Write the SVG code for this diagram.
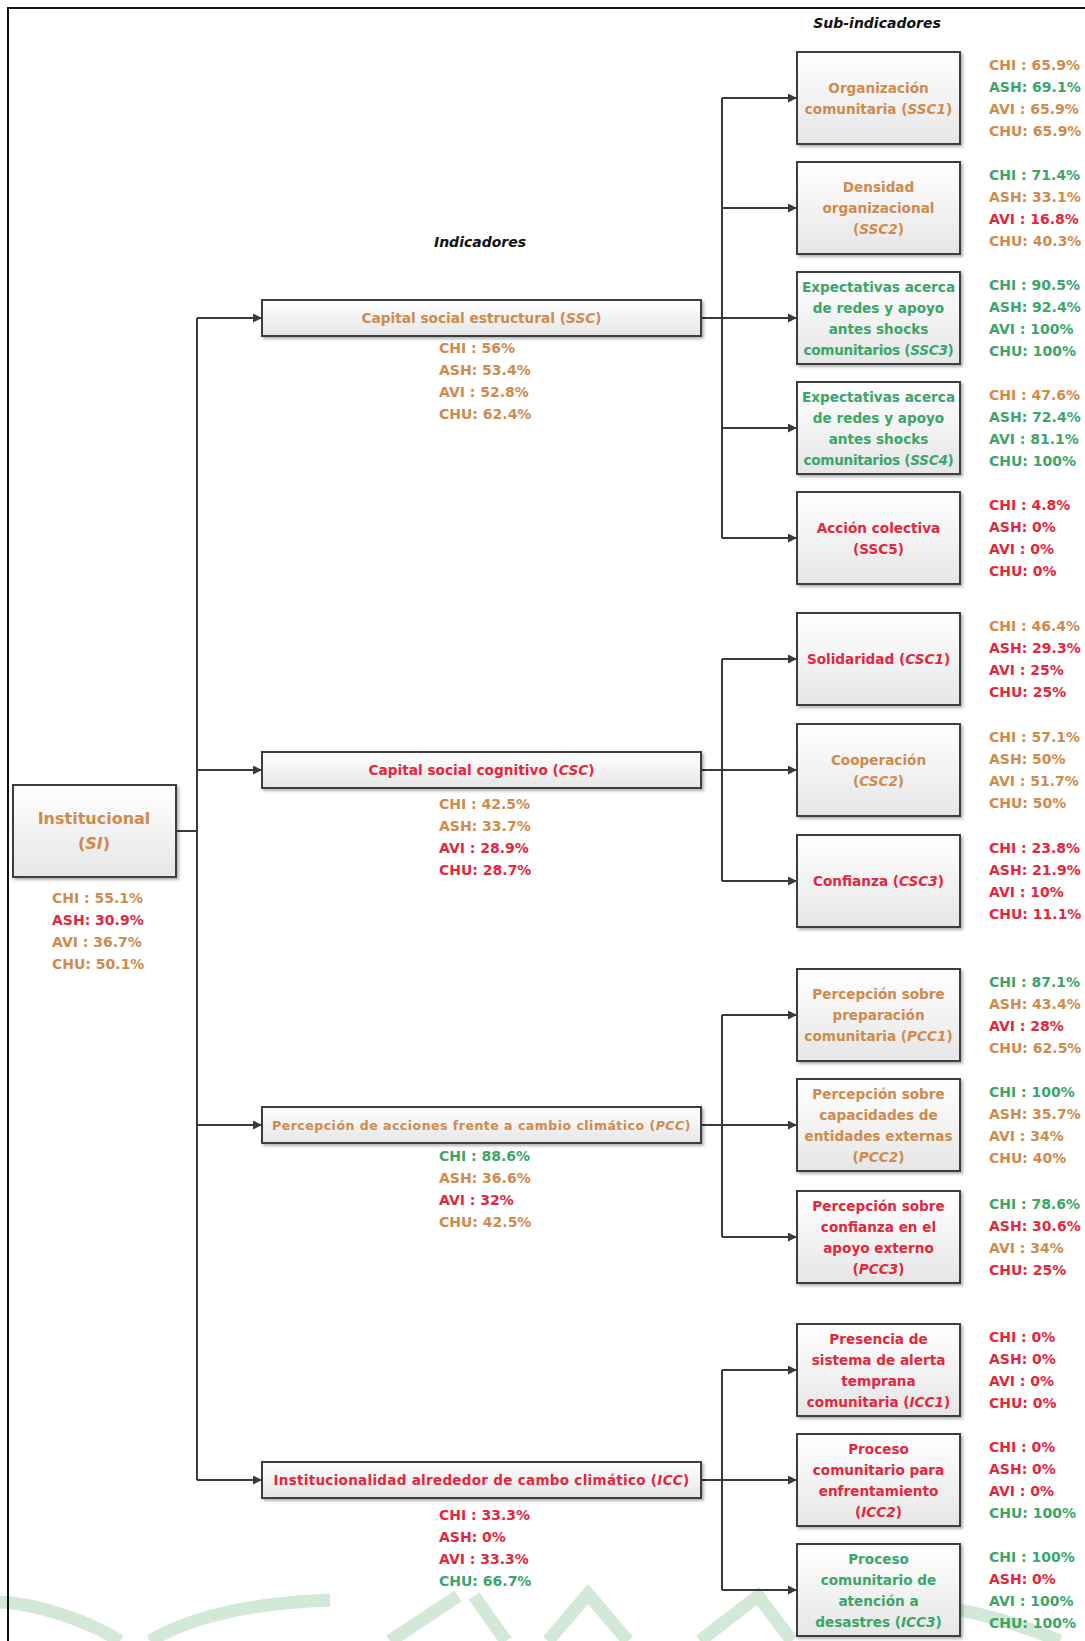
<svg xmlns="http://www.w3.org/2000/svg" width="1085" height="1641" viewBox="0 0 1085 1641">
<defs>
<linearGradient id="bg" x1="0" y1="0" x2="0" y2="1">
<stop offset="0" stop-color="#ffffff"/>
<stop offset="1" stop-color="#e6e6e6"/>
</linearGradient>
<filter id="sh" x="-10%" y="-10%" width="130%" height="130%">
<feDropShadow dx="2" dy="2" stdDeviation="1.5" flood-color="#000" flood-opacity="0.3"/>
</filter>
<marker id="ah" viewBox="0 0 10 10" refX="10" refY="5" markerWidth="10" markerHeight="9" markerUnits="userSpaceOnUse" orient="auto">
<path d="M0,0 L10,5 L0,10 z" fill="#3a3a3a"/>
</marker>
<style>
.box{fill:url(#bg);stroke:#3d3d3d;stroke-width:2;filter:url(#sh)}
.conn{stroke:#3a3a3a;stroke-width:2;fill:none}
.arr{marker-end:url(#ah)}
text{font-family:"DejaVu Sans","Liberation Sans",sans-serif;font-weight:bold;font-size:14px}
.o{fill:#D08A4C}
.g{fill:#3BA56A}
.r{fill:#E3273D}
.k{fill:#111}
.c{text-anchor:middle}
.lb{font-size:13.6px}
.i{font-style:italic}
.hd{font-style:italic;font-size:14px}
.wm{stroke:#d3e9d7;stroke-width:13;fill:none;stroke-linecap:butt}
</style>
</defs>
<rect x="0" y="0" width="1085" height="1641" fill="#ffffff"/>

<g id="watermark">
<path class="wm" d="M0,1602 C40,1604 90,1622 120,1641"/>
<path class="wm" d="M150,1641 C190,1617 250,1603 330,1600"/>
<path class="wm" d="M390,1641 L458,1596"/>
<path class="wm" d="M474,1596 L506,1641"/>
<path class="wm" d="M548,1641 L588,1594 L628,1641"/>
<path class="wm" d="M700,1641 L758,1596 L792,1641"/>
<path class="wm" d="M880,1602 C950,1602 1010,1620 1060,1641"/>
</g>

<g id="frame">
<path d="M8,1641 V8 H1085" fill="none" stroke="#111" stroke-width="2"/>
</g>

<g id="headings">
<text class="k c hd" x="877" y="28">Sub-indicadores</text>
<text class="k c hd" x="480" y="247">Indicadores</text>
</g>

<g id="connectors">
<path class="conn" d="M176,831 H197"/>
<path class="conn" d="M197,318 V1480"/>
<path class="conn arr" d="M197,318 H262"/>
<path class="conn arr" d="M197,770 H262"/>
<path class="conn arr" d="M197,1125 H262"/>
<path class="conn arr" d="M197,1480 H262"/>

<path class="conn" d="M701,318 H722"/>
<path class="conn" d="M722,98 V538"/>
<path class="conn arr" d="M722,98 H797"/>
<path class="conn arr" d="M722,208 H797"/>
<path class="conn arr" d="M722,318 H797"/>
<path class="conn arr" d="M722,428 H797"/>
<path class="conn arr" d="M722,538 H797"/>

<path class="conn" d="M701,770 H722"/>
<path class="conn" d="M722,659 V881"/>
<path class="conn arr" d="M722,659 H797"/>
<path class="conn arr" d="M722,770 H797"/>
<path class="conn arr" d="M722,881 H797"/>

<path class="conn" d="M701,1125 H722"/>
<path class="conn" d="M722,1015 V1237"/>
<path class="conn arr" d="M722,1015 H797"/>
<path class="conn arr" d="M722,1125 H797"/>
<path class="conn arr" d="M722,1237 H797"/>

<path class="conn" d="M701,1480 H722"/>
<path class="conn" d="M722,1370 V1590"/>
<path class="conn arr" d="M722,1370 H797"/>
<path class="conn arr" d="M722,1480 H797"/>
<path class="conn arr" d="M722,1590 H797"/>
</g>

<g id="SI">
<rect class="box" x="13" y="785" width="163" height="92"/>
<text class="o c" x="94" y="824" style="font-size:16px">Institucional</text>
<text class="o c" x="94" y="849" style="font-size:16px">(<tspan class="i">SI</tspan>)</text>
<text class="o" x="52" y="903">CHI : 55.1%</text>
<text class="r" x="52" y="925">ASH: 30.9%</text>
<text class="o" x="52" y="947">AVI : 36.7%</text>
<text class="o" x="52" y="969">CHU: 50.1%</text>
</g>

<g id="SSC">
<rect class="box" x="262" y="300" width="439" height="36"/>
<text class="o c" x="481.5" y="323" style="font-size:13.7px">Capital social estructural (<tspan class="i">SSC</tspan>)</text>
<text class="o" x="439" y="353">CHI : 56%</text>
<text class="o" x="439" y="375">ASH: 53.4%</text>
<text class="o" x="439" y="397">AVI : 52.8%</text>
<text class="o" x="439" y="419">CHU: 62.4%</text>
</g>

<g id="CSC">
<rect class="box" x="262" y="752" width="439" height="36"/>
<text class="r c" x="481.5" y="775" style="font-size:13.7px">Capital social cognitivo (<tspan class="i">CSC</tspan>)</text>
<text class="o" x="439" y="809">CHI : 42.5%</text>
<text class="o" x="439" y="831">ASH: 33.7%</text>
<text class="r" x="439" y="853">AVI : 28.9%</text>
<text class="r" x="439" y="875">CHU: 28.7%</text>
</g>

<g id="PCC">
<rect class="box" x="262" y="1107" width="439" height="36"/>
<text class="o c" x="481.5" y="1130" style="font-size:12.5px;letter-spacing:0.5px">Percepción de acciones frente a cambio climático (<tspan class="i">PCC</tspan>)</text>
<text class="g" x="439" y="1161">CHI : 88.6%</text>
<text class="o" x="439" y="1183">ASH: 36.6%</text>
<text class="r" x="439" y="1205">AVI : 32%</text>
<text class="o" x="439" y="1227">CHU: 42.5%</text>
</g>

<g id="ICC">
<rect class="box" x="262" y="1462" width="439" height="36"/>
<text class="r c" x="481.5" y="1485" style="font-size:13.5px;letter-spacing:0.3px">Institucionalidad alrededor de cambo climático (<tspan class="i">ICC</tspan>)</text>
<text class="r" x="439" y="1520">CHI : 33.3%</text>
<text class="r" x="439" y="1542">ASH: 0%</text>
<text class="r" x="439" y="1564">AVI : 33.3%</text>
<text class="g" x="439" y="1586">CHU: 66.7%</text>
</g>

<g id="SSC1">
<rect class="box" x="797" y="52" width="163" height="92"/>
<text class="o c lb" x="878.5" y="92.5">Organización</text>
<text class="o c lb" x="878.5" y="113.5">comunitaria (<tspan class="i">SSC1</tspan>)</text>
<text class="o" x="989" y="69.5">CHI : 65.9%</text>
<text class="g" x="989" y="91.5">ASH: 69.1%</text>
<text class="o" x="989" y="113.5">AVI : 65.9%</text>
<text class="o" x="989" y="135.5">CHU: 65.9%</text>
</g>

<g id="SSC2">
<rect class="box" x="797" y="162" width="163" height="92"/>
<text class="o c lb" x="878.5" y="192">Densidad</text>
<text class="o c lb" x="878.5" y="213">organizacional</text>
<text class="o c lb" x="878.5" y="234">(<tspan class="i">SSC2</tspan>)</text>
<text class="g" x="989" y="179.5">CHI : 71.4%</text>
<text class="o" x="989" y="201.5">ASH: 33.1%</text>
<text class="r" x="989" y="223.5">AVI : 16.8%</text>
<text class="o" x="989" y="245.5">CHU: 40.3%</text>
</g>

<g id="SSC3">
<rect class="box" x="797" y="272" width="163" height="92"/>
<text class="g c lb" x="878.5" y="291.5">Expectativas acerca</text>
<text class="g c lb" x="878.5" y="312.5">de redes y apoyo</text>
<text class="g c lb" x="878.5" y="333.5">antes shocks</text>
<text class="g c lb" x="878.5" y="354.5" style="letter-spacing:-0.3px">comunitarios (<tspan class="i">SSC3</tspan>)</text>
<text class="g" x="989" y="289.5">CHI : 90.5%</text>
<text class="g" x="989" y="311.5">ASH: 92.4%</text>
<text class="g" x="989" y="333.5">AVI : 100%</text>
<text class="g" x="989" y="355.5">CHU: 100%</text>
</g>

<g id="SSC4">
<rect class="box" x="797" y="382" width="163" height="92"/>
<text class="g c lb" x="878.5" y="401.5">Expectativas acerca</text>
<text class="g c lb" x="878.5" y="422.5">de redes y apoyo</text>
<text class="g c lb" x="878.5" y="443.5">antes shocks</text>
<text class="g c lb" x="878.5" y="464.5" style="letter-spacing:-0.3px">comunitarios (<tspan class="i">SSC4</tspan>)</text>
<text class="o" x="989" y="399.5">CHI : 47.6%</text>
<text class="g" x="989" y="421.5">ASH: 72.4%</text>
<text class="g" x="989" y="443.5">AVI : 81.1%</text>
<text class="g" x="989" y="465.5">CHU: 100%</text>
</g>

<g id="SSC5">
<rect class="box" x="797" y="492" width="163" height="92"/>
<text class="r c lb" x="878.5" y="532.5">Acción colectiva</text>
<text class="r c lb" x="878.5" y="553.5">(SSC5)</text>
<text class="r" x="989" y="509.5">CHI : 4.8%</text>
<text class="r" x="989" y="531.5">ASH: 0%</text>
<text class="r" x="989" y="553.5">AVI : 0%</text>
<text class="r" x="989" y="575.5">CHU: 0%</text>
</g>

<g id="CSC1">
<rect class="box" x="797" y="613" width="163" height="92"/>
<text class="r c lb" x="878.5" y="664">Solidaridad (<tspan class="i">CSC1</tspan>)</text>
<text class="o" x="989" y="630.5">CHI : 46.4%</text>
<text class="r" x="989" y="652.5">ASH: 29.3%</text>
<text class="r" x="989" y="674.5">AVI : 25%</text>
<text class="r" x="989" y="696.5">CHU: 25%</text>
</g>

<g id="CSC2">
<rect class="box" x="797" y="724" width="163" height="92"/>
<text class="o c lb" x="878.5" y="764.5">Cooperación</text>
<text class="o c lb" x="878.5" y="785.5">(<tspan class="i">CSC2</tspan>)</text>
<text class="o" x="989" y="741.5">CHI : 57.1%</text>
<text class="o" x="989" y="763.5">ASH: 50%</text>
<text class="o" x="989" y="785.5">AVI : 51.7%</text>
<text class="o" x="989" y="807.5">CHU: 50%</text>
</g>

<g id="CSC3">
<rect class="box" x="797" y="835" width="163" height="92"/>
<text class="r c lb" x="878.5" y="886">Confianza (<tspan class="i">CSC3</tspan>)</text>
<text class="r" x="989" y="852.5">CHI : 23.8%</text>
<text class="r" x="989" y="874.5">ASH: 21.9%</text>
<text class="r" x="989" y="896.5">AVI : 10%</text>
<text class="r" x="989" y="918.5">CHU: 11.1%</text>
</g>

<g id="PCC1">
<rect class="box" x="797" y="969" width="163" height="92"/>
<text class="o c lb" x="878.5" y="999">Percepción sobre</text>
<text class="o c lb" x="878.5" y="1020">preparación</text>
<text class="o c lb" x="878.5" y="1041">comunitaria (<tspan class="i">PCC1</tspan>)</text>
<text class="g" x="989" y="986.5">CHI : 87.1%</text>
<text class="o" x="989" y="1008.5">ASH: 43.4%</text>
<text class="r" x="989" y="1030.5">AVI : 28%</text>
<text class="o" x="989" y="1052.5">CHU: 62.5%</text>
</g>

<g id="PCC2">
<rect class="box" x="797" y="1079" width="163" height="92"/>
<text class="o c lb" x="878.5" y="1098.5">Percepción sobre</text>
<text class="o c lb" x="878.5" y="1119.5">capacidades de</text>
<text class="o c lb" x="878.5" y="1140.5">entidades externas</text>
<text class="o c lb" x="878.5" y="1161.5">(<tspan class="i">PCC2</tspan>)</text>
<text class="g" x="989" y="1096.5">CHI : 100%</text>
<text class="o" x="989" y="1118.5">ASH: 35.7%</text>
<text class="o" x="989" y="1140.5">AVI : 34%</text>
<text class="o" x="989" y="1162.5">CHU: 40%</text>
</g>

<g id="PCC3">
<rect class="box" x="797" y="1191" width="163" height="92"/>
<text class="r c lb" x="878.5" y="1210.5">Percepción sobre</text>
<text class="r c lb" x="878.5" y="1231.5">confianza en el</text>
<text class="r c lb" x="878.5" y="1252.5">apoyo externo</text>
<text class="r c lb" x="878.5" y="1273.5">(<tspan class="i">PCC3</tspan>)</text>
<text class="g" x="989" y="1208.5">CHI : 78.6%</text>
<text class="r" x="989" y="1230.5">ASH: 30.6%</text>
<text class="o" x="989" y="1252.5">AVI : 34%</text>
<text class="r" x="989" y="1274.5">CHU: 25%</text>
</g>

<g id="ICC1">
<rect class="box" x="797" y="1324" width="163" height="92"/>
<text class="r c lb" x="878.5" y="1343.5">Presencia de</text>
<text class="r c lb" x="878.5" y="1364.5">sistema de alerta</text>
<text class="r c lb" x="878.5" y="1385.5">temprana</text>
<text class="r c lb" x="878.5" y="1406.5">comunitaria (<tspan class="i">ICC1</tspan>)</text>
<text class="r" x="989" y="1341.5">CHI : 0%</text>
<text class="r" x="989" y="1363.5">ASH: 0%</text>
<text class="r" x="989" y="1385.5">AVI : 0%</text>
<text class="r" x="989" y="1407.5">CHU: 0%</text>
</g>

<g id="ICC2">
<rect class="box" x="797" y="1434" width="163" height="92"/>
<text class="r c lb" x="878.5" y="1453.5">Proceso</text>
<text class="r c lb" x="878.5" y="1474.5">comunitario para</text>
<text class="r c lb" x="878.5" y="1495.5">enfrentamiento</text>
<text class="r c lb" x="878.5" y="1516.5">(<tspan class="i">ICC2</tspan>)</text>
<text class="r" x="989" y="1451.5">CHI : 0%</text>
<text class="r" x="989" y="1473.5">ASH: 0%</text>
<text class="r" x="989" y="1495.5">AVI : 0%</text>
<text class="g" x="989" y="1517.5">CHU: 100%</text>
</g>

<g id="ICC3">
<rect class="box" x="797" y="1544" width="163" height="92"/>
<text class="g c lb" x="878.5" y="1563.5">Proceso</text>
<text class="g c lb" x="878.5" y="1584.5">comunitario de</text>
<text class="g c lb" x="878.5" y="1605.5">atención a</text>
<text class="g c lb" x="878.5" y="1626.5">desastres (<tspan class="i">ICC3</tspan>)</text>
<text class="g" x="989" y="1561.5">CHI : 100%</text>
<text class="r" x="989" y="1583.5">ASH: 0%</text>
<text class="g" x="989" y="1605.5">AVI : 100%</text>
<text class="g" x="989" y="1627.5">CHU: 100%</text>
</g>
</svg>
